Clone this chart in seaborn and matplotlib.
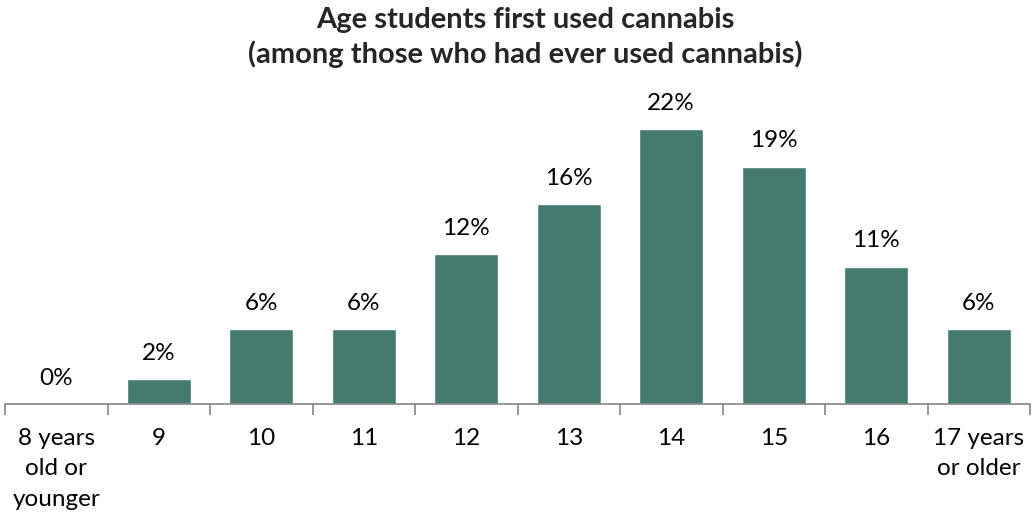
import matplotlib
matplotlib.use("Agg")
import matplotlib.pyplot as plt
import seaborn as sns
import pandas as pd
import numpy as np

# data
ages = ["8 years\nold or\nyounger", "9", "10", "11", "12", "13", "14", "15", "16",
        "17 years\nor older"]
percent = [0, 2, 6, 6, 12, 16, 22, 19, 11, 6]

df = pd.DataFrame({"age": ages, "percent": percent})

sns.set_theme(style="white")
plt.rcParams["font.family"] = ["Lato", "DejaVu Sans"]

fig = plt.figure(figsize=(10.36, 5.14), dpi=100)
ax = fig.add_axes([5 / 1036, 110 / 514, 1025 / 1036, 300 / 514])

sns.barplot(data=df, x="age", y="percent", color="#457A6F", saturation=1,
            width=0.62, ax=ax)

ax.bar_label(ax.containers[0], labels=[f"{v}%" for v in percent],
             padding=11, fontsize=17.5, color="black")

ax.set_xlim(-0.5, len(ages) - 0.5)
ax.set_ylim(0, 24)
ax.set_xlabel("")
ax.set_ylabel("")
ax.set_yticks([])

ax.tick_params(axis="x", which="major", length=0, pad=17, labelsize=17.5,
               labelcolor="black")
ax.set_xticks(np.arange(-0.5, len(ages), 1), minor=True)
ax.tick_params(axis="x", which="minor", length=8, width=1.2, color="#868686",
               direction="out", bottom=True)
for lbl in ax.get_xticklabels():
    lbl.set_linespacing(1.58)
    lbl.set_verticalalignment("top")

for side in ["top", "right", "left"]:
    ax.spines[side].set_visible(False)
ax.spines["bottom"].set_color("#868686")
ax.spines["bottom"].set_linewidth(1.2)

fig.text(0.507, 0.986, "Age students first used cannabis\n(among those who had ever used cannabis)",
         ha="center", va="top", fontsize=21, fontweight="bold", linespacing=1.32)

fig.savefig("out.png", dpi=100)
